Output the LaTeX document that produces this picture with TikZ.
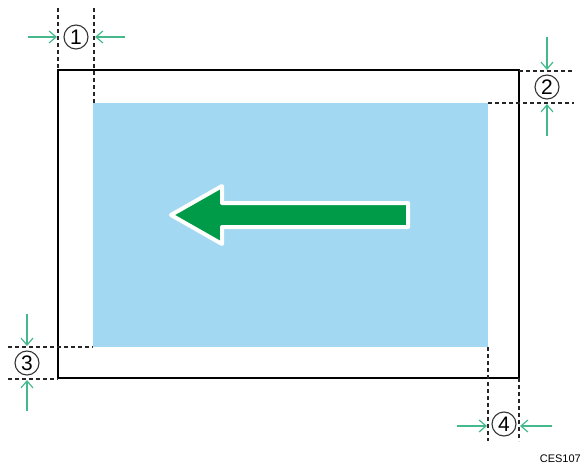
\documentclass[tikz,border=0pt]{standalone}
\usepackage{fontspec}
\setmainfont{Liberation Sans}
\usetikzlibrary{arrows.meta}
\definecolor{paperblue}{RGB}{163,216,242}
\definecolor{feedgreen}{RGB}{0,155,72}
\definecolor{dimgreen}{RGB}{70,185,140}

\begin{document}
\begin{tikzpicture}[x=1pt,y=-1pt]
	\tikzset{guide/.style={black!85, dash pattern=on 4pt off 3pt, line width=1.3pt},
		dimarrow/.style={dimgreen, line width=1.2pt, -{Straight Barb[length=7pt,width=12pt]}},
		margin/.style={draw=black!80, circle, line width=1.1pt, inner sep=0pt,
			minimum size=24pt, font=\fontsize{21}{21}\selectfont}}
	\useasboundingbox (0,0) rectangle (581,468);
	% sheet and printable area
	\draw[line width=2.8pt, fill=white] (58,70) rectangle (519,378);
	\fill[paperblue] (93,103) rectangle (488,347);
	% feed direction
	\draw[white, line width=4pt, line join=round, fill=feedgreen]
		(408,203) -- (222,203) -- (222,186) -- (171,215) -- (222,244) -- (222,227) -- (408,227) -- cycle;
	% guide lines
	\draw[guide] (58,8) -- (58,70);
	\draw[guide] (94,8) -- (94,103);
	\draw[guide] (519,71) -- (574,71);
	\draw[guide] (488,103) -- (574,103);
	\draw[guide] (8,347) -- (93,347);
	\draw[guide] (8,379) -- (58,379);
	\draw[guide] (488,347) -- (488,441);
	\draw[guide] (519,378) -- (519,441);
	% margin labels
	\node[margin] (m1) at (76,37) {1};
	\node[margin] (m2) at (547,87) {2};
	\node[margin] (m3) at (27,363) {3};
	\node[margin] (m4) at (504,424) {4};
	\coordinate (m1l) at (28,37);  \coordinate (m1lt) at (57,37);
	\coordinate (m1r) at (125,37); \coordinate (m1rt) at (95,37);
	\coordinate (m2t) at (547,37); \coordinate (m2tt) at (547,70);
	\coordinate (m2b) at (547,136); \coordinate (m2bt) at (547,104);
	\coordinate (m3t) at (27,314); \coordinate (m3tt) at (27,346);
	\coordinate (m3b) at (27,411); \coordinate (m3bt) at (27,380);
	\coordinate (m4l) at (457,426); \coordinate (m4lt) at (487,426);
	\coordinate (m4r) at (552,426); \coordinate (m4rt) at (520,426);
	\draw[dimarrow] (m1l) -- (m1lt);
	\draw[dimarrow] (m1r) -- (m1rt);
	\draw[dimarrow] (m2t) -- (m2tt);
	\draw[dimarrow] (m2b) -- (m2bt);
	\draw[dimarrow] (m3t) -- (m3tt);
	\draw[dimarrow] (m3b) -- (m3bt);
	\draw[dimarrow] (m4l) -- (m4lt);
	\draw[dimarrow] (m4r) -- (m4rt);
	\node[anchor=east, font=\fontsize{11}{11}\selectfont, inner sep=0pt] (code) at (581,459) {CES107};
\end{tikzpicture}
\end{document}
